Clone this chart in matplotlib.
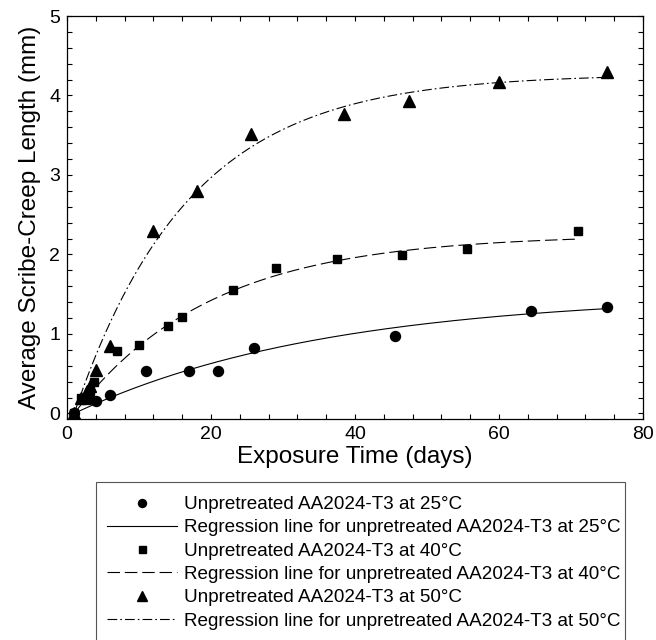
import numpy as np
import matplotlib
matplotlib.use("Agg")
import matplotlib.pyplot as plt
from matplotlib.ticker import MultipleLocator
from matplotlib.patches import Rectangle

plt.rcParams['font.family'] = ['Liberation Sans', 'DejaVu Sans']
plt.rcParams['lines.scale_dashes'] = False

# Measured scribe-creep lengths (mm) versus exposure time (days)
days_25 = [1, 2.2, 3, 4, 6, 11, 17, 21, 26, 45.5, 64.5, 75]
creep_25 = [0.0, 0.18, 0.18, 0.16, 0.23, 0.54, 0.54, 0.54, 0.82, 0.97, 1.29, 1.34]

days_40 = [1, 2, 2.8, 3.2, 3.8, 7, 10, 14, 16, 23, 29, 37.5, 46.5, 55.5, 71]
creep_40 = [0.0, 0.19, 0.2, 0.28, 0.4, 0.78, 0.86, 1.10, 1.21, 1.55, 1.83, 1.94, 1.99, 2.07, 2.30]

days_50 = [1, 2, 2.8, 3.2, 4, 6, 12, 18, 25.5, 38.5, 47.5, 60, 75]
creep_50 = [0.0, 0.2, 0.28, 0.35, 0.55, 0.85, 2.29, 2.80, 3.52, 3.77, 3.93, 4.17, 4.30]

# Regression model L(t) = L_max * (1 - exp(-(t - t0) / tau))
fit_25 = dict(L_max=1.5, tau=35.0, t0=1.0, t_end=75)
fit_40 = dict(L_max=2.25, tau=19.0, t0=1.0, t_end=71)
fit_50 = dict(L_max=4.27, tau=16.0, t0=1.0, t_end=75)

labels_pts = ["Unpretreated AA2024-T3 at 25°C",
              "Unpretreated AA2024-T3 at 40°C",
              "Unpretreated AA2024-T3 at 50°C"]
labels_fit = ["Regression line for unpretreated AA2024-T3 at 25°C",
              "Regression line for unpretreated AA2024-T3 at 40°C",
              "Regression line for unpretreated AA2024-T3 at 50°C"]


def regression(p):
    t = np.linspace(p['t0'], p['t_end'], 300)
    return t, p['L_max'] * (1.0 - np.exp(-(t - p['t0']) / p['tau']))


W, H = 656, 640
fig = plt.figure(figsize=(W / 100, H / 100), dpi=100)
ax = fig.add_axes([67 / W, 1 - 419 / H, (643 - 67) / W, (419 - 16) / H])

lw = 0.8
styles = [
    dict(marker='o', ms=7.2, dashes=None),
    dict(marker='s', ms=6.3, dashes=(9, 3.5)),
    dict(marker='^', ms=8.5, dashes=(7, 2.2, 1.2, 2.2)),
]
series = [(days_25, creep_25, fit_25), (days_40, creep_40, fit_40), (days_50, creep_50, fit_50)]

handles = []
for (d, c, p), st, lp, lf in zip(series, styles, labels_pts, labels_fit):
    h_pts, = ax.plot(d, c, linestyle='none', marker=st['marker'], ms=st['ms'],
                     color='black', label=lp, zorder=3)
    t, L = regression(p)
    h_fit, = ax.plot(t, L, color='black', lw=lw, label=lf, zorder=2)
    if st['dashes'] is not None:
        h_fit.set_dashes(st['dashes'])
    handles += [h_pts, h_fit]

ax.set_xlim(0, 80)
ax.set_ylim(-0.07, 5)
ax.xaxis.set_major_locator(MultipleLocator(20))
ax.xaxis.set_minor_locator(MultipleLocator(4))
ax.yaxis.set_major_locator(MultipleLocator(1))
ax.yaxis.set_minor_locator(MultipleLocator(0.2))
ax.tick_params(which='both', direction='in', top=True, right=True,
               length=3.6, width=0.8, labelsize=14, pad=5)
for s in ax.spines.values():
    s.set_linewidth(0.9)

ax.set_xlabel("Exposure Time (days)", fontsize=17.5, labelpad=2)
ax.set_ylabel("Average Scribe-Creep Length (mm)", fontsize=17.5, labelpad=6)

# Legend entries without their own frame; the box is drawn separately
leg = fig.legend(handles=handles, loc='upper left',
                 bbox_to_anchor=(107 / W, 1 - 496 / H),
                 bbox_transform=fig.transFigure, borderaxespad=0,
                 fontsize=13.6, handlelength=3.7, handletextpad=0.4,
                 borderpad=0, labelspacing=0.32, frameon=False,
                 numpoints=1, markerscale=0.8)

box = Rectangle((96 / W, -0.02), (625 - 96) / W, (1 - 482 / H) + 0.02,
                transform=fig.transFigure, fill=False,
                edgecolor='#555555', linewidth=0.8)
fig.add_artist(box)

fig.savefig("out.png", dpi=100)
